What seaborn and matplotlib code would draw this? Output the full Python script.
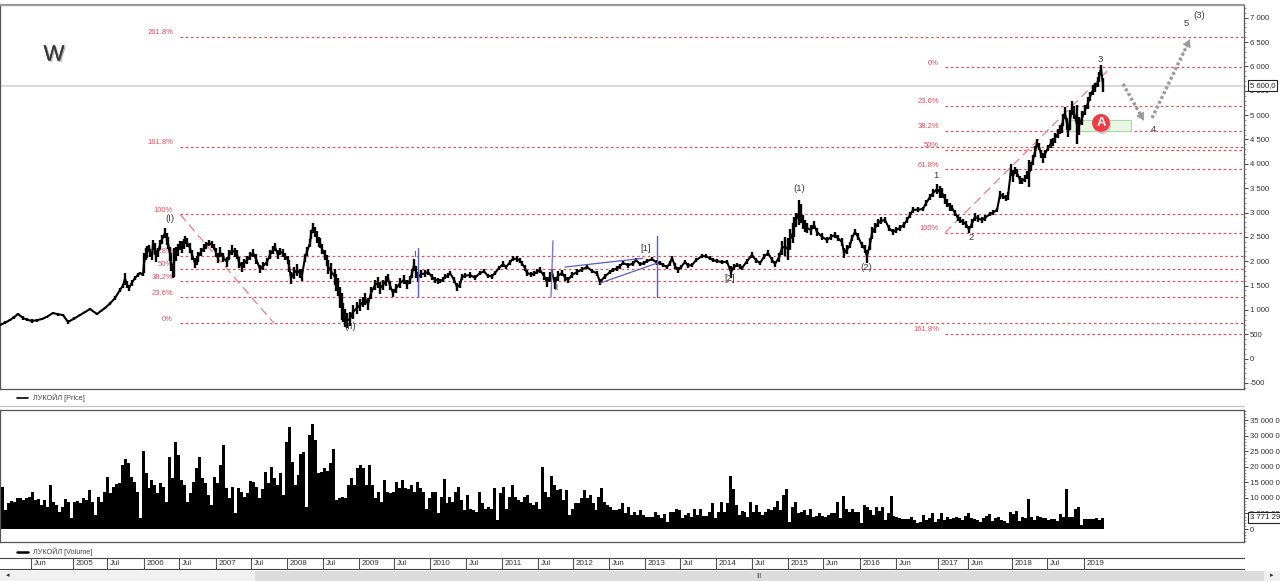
import matplotlib
matplotlib.use("Agg")
import matplotlib.pyplot as plt
import matplotlib.patheffects as pe
import numpy as np
import seaborn as sns
from matplotlib.patches import Rectangle
from matplotlib.ticker import FuncFormatter, MultipleLocator

# x axis is the chart's own bar counter, 1 bar on screen = 1 unit
price_bar = [0, 5, 10, 14, 18, 23, 27, 32, 37, 42, 47, 53, 58, 63, 68, 74, 80, 85, 90, 97, 101, 105, 110, 115, 120, 123, 125, 127, 129, 132, 135, 138, 140, 143,
             144, 147, 150, 153, 156, 160, 165, 168, 171, 174, 178, 182, 185, 190, 195, 198, 204, 209, 214, 218,
             220, 227, 232, 237, 242, 247, 253, 260, 267, 275, 278, 283, 288, 291, 297, 300, 305, 310, 313, 317, 320, 325, 328, 335, 338, 342, 345, 350, 357, 363, 368, 375, 383, 388, 393, 400, 410, 414, 418, 425, 432, 438,
             440, 445, 450, 457, 462, 470, 480, 488, 495, 503, 510, 517, 522, 527, 534, 540, 547, 552, 555, 562, 568, 577, 587, 597, 600, 610, 617, 623, 633, 640, 647, 657,
             660, 667, 672, 678, 685, 692, 702, 710, 717, 727, 731, 737, 742, 752, 760, 768, 775, 782, 788, 793, 796, 799, 803, 807, 817, 827, 835, 842, 844, 850, 855, 862, 867, 872, 878,
             885, 893, 900, 907, 913, 923, 930, 937, 942, 947, 952, 958, 963, 969, 975, 982, 990, 997, 1000, 1008, 1011, 1017, 1020, 1027, 1029, 1033, 1037, 1043, 1048, 1055, 1062, 1065, 1068, 1072, 1077, 1082, 1088, 1093, 1098, 1101, 1103]
price = [690, 737, 793, 850, 916, 833, 800, 772, 790, 813, 860, 936, 910, 895, 752, 820, 895, 960, 1018, 916, 980, 1039, 1130, 1244, 1409, 1500, 1640, 1520, 1450, 1560, 1655, 1720, 1758, 1717,
         1963, 2189, 2168, 2333, 2110, 2333, 2579, 2370, 1984, 1980, 2230, 2292, 2435, 2270, 1963, 2090, 2270, 2374, 2290, 2066,
         2189, 1984, 2230, 2130, 1881, 2025, 2168, 1840, 1984, 2292, 2130, 2168, 2025, 1655, 1819, 1750, 2066, 2374, 2682, 2497, 2374, 2127, 1881, 1676, 1471, 1070, 833, 818, 1039, 1162, 1120, 1511, 1511, 1655, 1347, 1552, 1614, 1922, 1676, 1750, 1676, 1600,
         1593, 1680, 1758, 1470, 1676, 1717, 1758, 1700, 1758, 1942, 1980, 2045, 1950, 1758, 1740, 1819, 1570, 1758, 1550, 1758, 1614, 1778, 1881, 1750, 1570, 1778, 1850, 1963, 1950, 1940, 2004, 1970,
         1963, 1881, 2066, 1819, 1984, 1922, 2107, 2060, 2004, 1990, 1778, 1922, 1860, 2127, 1963, 2168, 1942, 2271, 2250, 2579, 2846, 3000, 2805, 2682, 2600, 2435, 2538, 2394, 2168, 2333, 2600, 2333, 2100, 2579, 2784,
         2846, 2600, 2682, 2846, 3052, 3072, 3318, 3480, 3400, 3195, 3093, 2887, 2805, 2650, 2908, 2846, 2970, 3052, 3360, 3340, 3873, 3811, 3668, 3770, 3800, 4078, 4428, 4119, 4324, 4530, 4735, 5044, 4653, 5146, 4800, 4940, 5249, 5517, 5680, 5950, 5620]
price_spread = [30, 30, 30, 30, 30, 40, 30, 40, 30, 30, 25, 30, 25, 25, 50, 25, 30, 25, 30, 30, 20, 30, 30, 40, 40, 40, 120, 80, 60, 60, 50, 40, 30, 30,
                200, 120, 80, 100, 120, 100, 100, 120, 180, 300, 120, 120, 80, 100, 100, 100, 80, 70, 70, 100,
                100, 100, 100, 90, 100, 80, 80, 90, 80, 90, 90, 80, 80, 130, 120, 100, 80, 90, 100, 120, 100, 100, 140, 160, 180, 280, 180, 140, 120, 110, 120, 110, 110, 90, 90, 100, 90, 120, 100, 70, 70, 60,
                50, 50, 50, 80, 60, 60, 50, 40, 50, 60, 50, 60, 50, 60, 50, 60, 100, 90, 120, 70, 70, 60, 50, 50, 60, 50, 50, 50, 50, 40, 40, 50,
                40, 50, 50, 60, 50, 50, 40, 40, 40, 40, 120, 50, 50, 60, 50, 70, 60, 150, 230, 200, 150, 250, 150, 100, 90, 60, 60, 80, 110, 70, 60, 70, 130, 120, 80,
                60, 70, 60, 60, 60, 50, 60, 110, 110, 90, 70, 70, 60, 70, 90, 70, 50, 40, 90, 80, 120, 80, 80, 80, 280, 100, 80, 100, 70, 100, 100, 120, 100, 150, 400, 150, 120, 100, 100, 80, 150]

# second pass over the picture, bars between the ones above
swing_bar = [146, 149, 152, 155, 158, 162, 167, 170, 173, 176, 180, 184, 187, 192, 197, 201, 206, 212, 216,
             223, 229, 235, 239, 244, 250, 256, 263, 270, 273, 280, 285, 289, 294, 302, 307, 311, 315, 319, 322, 327, 331, 336, 340, 343, 347, 353, 360, 365, 371, 378, 380, 386, 390, 396, 404, 407, 412, 416, 421, 428, 435,
             443, 448, 454, 460, 465, 475, 484, 492, 499, 506, 513, 520, 525, 531, 537, 544, 550, 558, 565, 572, 582, 592, 605, 613, 620, 628, 636, 644, 652,
             663, 670, 675, 681, 688, 696, 706, 713, 722, 734, 740, 747, 756, 764, 772, 779, 785, 790, 794, 801, 805, 811, 814, 822, 831, 838, 847, 852, 858, 865, 870, 875, 881,
             889, 896, 904, 910, 918, 926, 933, 940, 945, 950, 955, 960, 966, 972, 978, 985, 993, 1003, 1006, 1013, 1015, 1022, 1025, 1031, 1035, 1039, 1041, 1045, 1051, 1053, 1058, 1060, 1063, 1067, 1070, 1074, 1079, 1085, 1090, 1095, 1099]
swing_price = [2150, 2280, 2120, 2250, 2180, 2450, 2450, 2150, 1800, 2150, 2330, 2350, 2380, 2130, 2020, 2190, 2330, 2340, 2180,
               2080, 2120, 2180, 1980, 1950, 2100, 2050, 1900, 2130, 2230, 2200, 2100, 1900, 1760, 1720, 2200, 2550, 2600, 2400, 2250, 2020, 1800, 1560, 1260, 950, 780, 960, 1100, 1230, 1350, 1560, 1450, 1600, 1500, 1440, 1620, 1520, 1750, 1780, 1730, 1780, 1620,
               1620, 1700, 1620, 1520, 1700, 1660, 1790, 1690, 1860, 1880, 2050, 2010, 1860, 1730, 1780, 1700, 1680, 1700, 1670, 1720, 1830, 1800, 1690, 1820, 1900, 1920, 2020, 1960, 2040,
               1920, 1960, 1900, 1880, 1910, 2020, 2100, 2020, 1980, 1880, 1900, 2000, 2020, 2090, 2030, 2080, 2300, 2450, 2700, 2980, 2720, 2640, 2750, 2500, 2500, 2470, 2240, 2480, 2500, 2250, 2350, 2680, 2830,
               2680, 2640, 2750, 2950, 3060, 3190, 3400, 3420, 3280, 3120, 2990, 2840, 2760, 2780, 2880, 2890, 3000, 3340, 3290, 3750, 3860, 3640, 3700, 3950, 4250, 4350, 4200, 4200, 4420, 4450, 4620, 4700, 4900, 4820, 4900, 5050, 4780, 5100, 5380, 5560, 5780]
swing_spread = [120, 60, 90, 120, 100, 90, 120, 150, 150, 150, 90, 100, 90, 110, 90, 80, 70, 70, 90,
                90, 100, 100, 110, 90, 80, 100, 90, 90, 90, 80, 70, 130, 130, 120, 90, 100, 110, 100, 100, 110, 170, 170, 220, 200, 160, 150, 120, 120, 120, 110, 120, 100, 90, 100, 90, 90, 90, 120, 80, 70, 60,
                50, 50, 60, 70, 50, 50, 40, 50, 50, 50, 50, 50, 60, 50, 50, 80, 100, 100, 70, 60, 50, 50, 50, 40, 50, 50, 40, 40, 40,
                40, 50, 60, 50, 50, 40, 40, 40, 40, 70, 50, 50, 50, 50, 60, 90, 200, 220, 200, 200, 130, 100, 80, 70, 60, 60, 90, 60, 70, 90, 120, 100, 70,
                60, 60, 60, 60, 50, 60, 80, 120, 100, 80, 70, 60, 70, 90, 70, 60, 50, 60, 60, 120, 70, 60, 70, 90, 120, 70, 80, 90, 90, 80, 100, 90, 130, 130, 200, 130, 180, 100, 100, 90, 100]

volume_m = [9.9, 13.6, 6.1, 8.3, 9, 8.8, 10, 9.9, 9.3, 10, 10.4, 11.8, 9.3, 9.6, 7.7, 9.3, 7.2, 14.1, 8.8, 7.7, 5.6, 7.2, 9.5, 8.8, 3.4, 8.8, 9, 8.3, 9.9, 9.3, 12.5, 8.8, 4.5, 10.4, 8.8, 12, 16.8, 11.5, 13.6, 14.4, 14.7, 20.6, 22.5, 21.1, 16.8, 15.2, 12, 3.4,
            25, 17.9, 13.1, 15.8, 14.1, 11.5, 14.7, 13.6, 8.8, 23.3, 16.3, 28, 23.8, 15.8, 14.1, 8.8, 11.5, 15.2, 19.5, 23.3, 16.3, 14.7, 10.9, 7.7, 16.8, 14.7, 20.6, 27, 13.1, 9.9, 13.6, 5, 13.1, 12, 10.4, 11.5, 15.4, 15.2, 13.6, 9.9, 12.9, 18.4, 14.7, 20, 16.3, 14.1, 17.9, 10.9,
            28, 32.9, 21.7, 14.1, 17.4, 24.3, 24.9, 7.2, 30.2, 33.7, 28.6, 17.9, 18.2, 19.5, 18.6, 21.1, 25.9, 9.3, 9.9, 10.4, 9.9, 14.1, 16.3, 14.1, 19.5, 20.6, 19.5, 14.1, 20.6, 14.1, 9.9, 12, 8.8, 15.8, 12, 11.5, 12, 15.2, 13.1, 15.8, 13.1, 12.9, 14.1, 12, 15.2, 13.1, 12, 6.6,
            9.9, 12, 12, 5, 10.4, 16, 8.3, 10.4, 8.8, 12, 13.6, 9.3, 6.1, 10.9, 6.6, 6.1, 5.6, 12, 8.3, 6.6, 7.2, 6.6, 13.1, 2.9, 11.5, 13.4, 6.6, 10.4, 14.1, 10.4, 9.3, 8.8, 10.4, 10.9, 8.3, 7.7, 8.8, 6.6, 19.8, 12, 10.4, 17, 14.1, 12.5, 12.8, 9.3, 12.5, 4.5,
            6.6, 8.3, 8.3, 9.9, 12.5, 9.9, 10.9, 8.3, 6.1, 10.4, 13.1, 8.8, 7.7, 7.2, 6.1, 6.1, 6.6, 8.5, 5, 7.2, 4.5, 5.6, 4.5, 6.1, 4.5, 4, 4, 3.8, 5.6, 4.5, 3.4, 4.8, 2.4, 5.6, 5.6, 6.6,
            6.1, 3.4, 4.5, 5.3, 4, 6.6, 4.5, 6.3, 4.2, 4.2, 5.6, 8.3, 3.4, 5.6, 8.8, 5.6, 8.3, 17, 12.8, 7.7, 4.5, 5.9, 5.6, 4, 8.6, 5.6, 7.7, 5.6, 4.5, 5.6, 6.6, 6.1, 7.2, 9.1, 6.1, 10.9, 12.8, 2.4, 7.2, 8.8, 5, 5.6, 6.1, 4.5, 6.4, 4, 4.2, 5.3, 4.2, 3.8, 4.5, 5.3, 5.3, 8.6, 3.4, 10.7, 6.4, 5.6, 6.6, 5.6, 5.6, 1.8,
            7.7, 7.2, 6.1, 4.5, 7.2, 5.9, 7.2, 2.9, 5, 10.7, 4.2, 4, 3.4, 3.1, 3.1, 3.1, 3.8, 2.9, 2, 2.4, 4.5, 2.9,
            3.4, 5, 2.4, 3.1, 5, 2.9, 4, 3.2, 3.4, 4, 3.6, 2.9, 4.3, 5, 3.4, 3.2, 2.9, 2.4, 3.4, 4.3, 4.7, 2.6, 3.4, 4, 2.9, 2.6, 1.8, 5.6, 4.7, 5.8, 2.6, 4, 3.4, 9.6, 4, 2.9, 4.3, 3.9, 3.6, 3.4, 2.9, 3.2, 3.2, 2.6, 4.7, 4, 12.9, 4, 4, 6.6, 7.1, 1.3, 3.1, 3.1, 3.1, 3.2, 3.6, 2.9, 3.6]

time_ticks = [31, 73, 107, 144, 179, 216, 251, 287, 323, 359, 394, 430, 466, 502, 538, 573, 609, 645, 680, 716, 752, 788, 823, 860, 896, 938, 968, 1012, 1047, 1084]
time_labels = ["Jun", "2005", "Jul", "2006", "Jul", "2007", "Jul", "2008", "Jul", "2009", "Jul", "2010", "Jul", "2011", "Jul", "2012", "Jun", "2013", "Jul", "2014", "Jul", "2015", "Jun", "2016", "Jun", "2017", "Jun", "2018", "Jul", "2019"]

fib_left_levels = [6603, 4351, 2963, 2107, 1846, 1587, 1259, 725]
fib_left_labels = ["261.8%", "161.8%", "100%", "61.8%", "50%", "38.2%", "23.6%", "0%"]
fib_right_levels = [5982, 5190, 4680, 4283, 3887, 2585, 505]
fib_right_labels = ["0%", "23.6%", "38.2%", "50%", "61.8%", "100%", "161.8%"]

wave_x = [170, 350, 414, 556, 646, 730, 799, 866, 936, 971, 1100, 1153, 1186, 1199]
wave_y = [2867, 669, 2148, 1450, 2271, 1655, 3483, 1881, 3750, 2497, 6152, 4702, 6891, 7055]
wave_labels = ["(I)", "(II)", "I", "II", "[1]", "[2]", "(1)", "(2)", "1", "2", "3", "4", "5", "(3)"]

last_price = 5600
last_volume = 3771291

W, H = 1280, 581
FONT = "Liberation Sans"
RED = "#e0505c"
GREY = "#9a9a9a"


def pane(x0, y0, x1, y1):
    return [x0 / W, 1 - y1 / H, (x1 - x0) / W, (y1 - y0) / H]


def spaced(v, pos=None):
    return f"{int(v):,}".replace(",", " ")


def fig_rect(x0, y0, x1, y1, **kw):
    fig.add_artist(Rectangle((x0 / W, 1 - y1 / H), (x1 - x0) / W, (y1 - y0) / H,
                             transform=fig.transFigure, **kw))


def fig_hline(x0, x1, y, **kw):
    fig.add_artist(plt.Line2D([x0 / W, x1 / W], [1 - y / H, 1 - y / H], transform=fig.transFigure, **kw))


def dotted_arrow(x0, y0, x1, y1):
    ax.plot([x0, x1 - (x1 - x0) * 0.12], [y0, y1 - (y1 - y0) * 0.12], color=GREY, lw=2.4,
            ls=(0, (0.9, 0.7)), zorder=5)
    ax.annotate("", xy=(x1, y1), xytext=(x1 - (x1 - x0) * 0.2, y1 - (y1 - y0) * 0.2),
                arrowprops=dict(arrowstyle="-|>,head_width=0.28,head_length=0.5", color=GREY, lw=0.5,
                                shrinkA=0, shrinkB=0), zorder=5)


sns.set_style("white")
plt.rcParams["font.family"] = [FONT, "DejaVu Sans"]

fig = plt.figure(figsize=(W / 100, H / 100), dpi=100)
ax = fig.add_axes(pane(0, 5, 1244, 389))
ax2 = fig.add_axes(pane(0, 410, 1244, 542))
ax3 = fig.add_axes(pane(0, 558, 1244, 569))

# price pane
ax.axhline(last_price, color="#d4d4d4", lw=1.2, zorder=1)
ax.hlines(fib_left_levels, 180, 1244, color=RED, lw=0.9, linestyles=(0, (2, 2.2)), zorder=1)
ax.hlines(fib_right_levels, 945, 1244, color=RED, lw=0.9, linestyles=(0, (2, 2.2)), zorder=1)
ax.plot([180, 274], [2963, 725], color="#e8808a", lw=0.9, ls=(0, (7, 4)), zorder=1)
ax.plot([945, 1111], [2585, 5982], color="#e8808a", lw=0.9, ls=(0, (7, 4)), zorder=1)
for lev, lab in zip(fib_left_levels, fib_left_labels):
    ax.text(173, lev + 85, lab, color=RED, fontsize=5.5, ha="right", va="center")
for lev, lab in zip(fib_right_levels, fib_right_labels):
    ax.text(939, lev + 85, lab, color=RED, fontsize=5.5, ha="right", va="center")

ax.add_patch(Rectangle((1069, 4680), 62, 220, fc="#e9f6e4", ec="#a9dca4", lw=0.8, zorder=2))

all_bar = np.array(price_bar + swing_bar)
all_price = np.array(price + swing_price)
all_spread = np.array(price_spread + swing_spread)
order = np.argsort(all_bar)
all_bar, all_price, all_spread = all_bar[order], all_price[order], all_spread[order]
ax.vlines(all_bar, all_price - all_spread, all_price + all_spread, color="black", lw=1.7, zorder=3)
sns.lineplot(x=all_bar, y=all_price, color="black", lw=1.5, estimator=None, sort=False, ax=ax, zorder=3)

for bx, by, in [(417.5, (1260, 2280)), (657, (1260, 2520))]:
    ax.plot([bx, bx], by, color="#5c5cc8", lw=1.0, zorder=4)
ax.plot([553, 551], [2420, 1260], color="#7a7ad8", lw=1.0, zorder=4)
ax.plot([565, 643], [1880, 2060], color="#5c5cc8", lw=0.9, zorder=4)
ax.plot([600, 657], [1550, 1960], color="#5c5cc8", lw=0.9, zorder=4)

for wx, wy, lab in zip(wave_x, wave_y, wave_labels):
    ax.text(wx, wy, lab, color="#3a3a3a", fontsize=6.8, ha="center", va="center", zorder=5)
ax.text(54, 6234, "W", color="#3a3a3a", fontsize=16, ha="center", va="center", zorder=5,
        path_effects=[pe.withSimplePatchShadow(offset=(1, -1), shadow_rgbFace="#999999", alpha=0.7), pe.Normal()])

dotted_arrow(1123, 5640, 1144, 4885)
dotted_arrow(1152, 4940, 1190, 6560)
ax.scatter([1102], [4800], s=170, color="#c8c8c8", edgecolor="none", zorder=6)
ax.scatter([1101], [4840], s=165, color="#ee3c42", edgecolor="none", zorder=6)
ax.text(1101, 4840, "A", color="white", fontsize=9.5, fontweight="bold", ha="center", va="center", zorder=7)

ax.set_xlim(0, 1244)
ax.set_ylim(-624, 7261)
ax.yaxis.tick_right()
ax.yaxis.set_major_locator(MultipleLocator(500))
ax.yaxis.set_minor_locator(MultipleLocator(100))
ax.yaxis.set_major_formatter(FuncFormatter(spaced))
ax.set_xticks([])
ax.set_ylabel("")

# volume pane
sns.barplot(x=np.arange(len(volume_m)) * 2.98, y=np.array(volume_m) * 1e6, native_scale=True, width=1,
            color="black", saturation=1, linewidth=0, errorbar=None, ax=ax2)
ax2.set_xlim(0, 1244)
ax2.set_ylim(-4.18e6, 38.3e6)
ax2.yaxis.tick_right()
ax2.yaxis.set_major_locator(MultipleLocator(5e6))
ax2.yaxis.set_minor_locator(MultipleLocator(1e6))
ax2.yaxis.set_major_formatter(FuncFormatter(spaced))
ax2.set_xticks([])
ax2.set_xlabel("")
ax2.set_ylabel("")

for a in (ax, ax2):
    a.tick_params(axis="y", which="major", length=3, width=0.7, color="#444444", labelsize=5.6, labelcolor="#333333", pad=1, right=True)
    a.tick_params(axis="y", which="minor", length=1.6, width=0.5, color="#777777", right=True)
    for s in a.spines.values():
        s.set_visible(True)
        s.set_color("#555555")
        s.set_linewidth(0.9)
ax.spines["top"].set_color("#999999")
ax.spines["top"].set_linewidth(1.6)

# current value boxes on the scales
box = dict(boxstyle="square,pad=0.25", fc="white", ec="#222222", lw=0.8)
ax.text(1250, last_price, "5 600,0", fontsize=5.6, color="#222222", va="center", ha="left", bbox=box, zorder=8, clip_on=False)
ax2.text(1250, last_volume, spaced(last_volume), fontsize=5.6, color="#222222", va="center", ha="left", bbox=box, zorder=8, clip_on=False)

# time strip
ax3.set_xlim(0, 1244)
ax3.set_ylim(0, 1)
ax3.set_xticks([])
ax3.set_yticks([])
for s in ax3.spines.values():
    s.set_visible(False)
ax3.spines["top"].set_visible(True)
ax3.spines["bottom"].set_visible(True)
ax3.spines["top"].set_color("#444444")
ax3.spines["bottom"].set_color("#444444")
ax3.vlines(time_ticks, 0, 1, color="#555555", lw=0.8)
for tx, lab in zip(time_ticks, time_labels):
    ax3.text(tx + 3, 0.5, lab, fontsize=5.8, color="#333333", ha="left", va="center")

# legend rows and window chrome
fig_hline(0, 1244, 405.5, color="#c4c4c4", lw=0.9)
fig_hline(17, 28, 398, color="black", lw=1.2)
fig.text(33 / W, 1 - 398 / H, "ЛУКОЙЛ [Price]", fontsize=5.2, color="#444444", va="center")
fig_hline(17, 28, 552, color="black", lw=1.8)
fig.text(33 / W, 1 - 551.5 / H, "ЛУКОЙЛ [Volume]", fontsize=5.2, color="#444444", va="center")
fig_rect(0, 571, 1280, 581, fc="#f1f1f1", ec="none")
fig_rect(255, 571, 1264, 581, fc="#dcdcdc", ec="none")
fig.text(759 / W, 1 - 576 / H, "III", fontsize=5, color="#555555", ha="center", va="center")
fig.text(8 / W, 1 - 576 / H, "◂", fontsize=5, color="#333333", ha="center", va="center")
fig.text(1272 / W, 1 - 576 / H, "▸", fontsize=5, color="#333333", ha="center", va="center")

fig.savefig("out.png", dpi=100)
